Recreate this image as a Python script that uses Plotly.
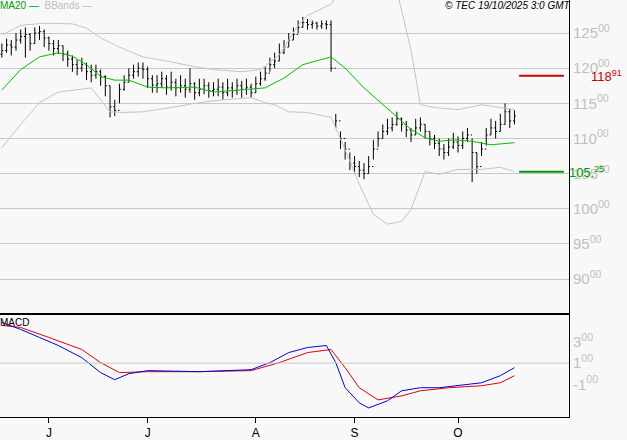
import plotly.graph_objects as go
from plotly.subplots import make_subplots

# daily bars, index 0 = 19 May 2025 ... 109 = 17 Oct 2025 (business days)
closes = [122.5, 123.3, 123.0, 124.0, 124.5, 124.8, 123.5, 125.0, 125.2, 124.3,
          123.5, 122.8, 123.2, 122.0, 121.3, 120.5, 120.0, 120.5, 119.5, 119.0,
          119.5, 118.8, 117.5, 114.5, 114.0, 117.0, 118.0, 119.0, 119.5, 120.0,
          119.8, 118.5, 117.6, 117.8, 118.5, 117.3, 118.0, 117.2, 117.5, 117.0,
          117.8, 116.5, 117.0, 117.5, 116.8, 117.0, 117.3, 116.5, 117.2, 116.8,
          117.5, 117.0, 117.3, 116.5, 117.8, 118.5, 119.3, 120.5, 121.0, 122.2,
          123.0, 124.0, 124.8, 125.8, 126.5, 126.2, 126.4, 126.0, 126.3, 126.2,
          120.0, 112.5, 110.0, 108.5, 106.5, 106.0, 105.5, 105.0, 106.0, 108.5,
          110.0, 111.0, 111.5, 112.0, 112.8, 112.0, 111.2, 110.5, 111.5, 112.0,
          111.0, 110.0, 109.3, 108.5, 108.0, 108.8, 109.5, 109.0, 110.0, 110.5,
          108.0, 106.0, 108.5, 110.5, 111.5, 111.0, 112.0, 113.8, 112.5, 113.2]
opens = [122.0] + closes[:-1]
highs = [123.5, 124.2, 124.0, 125.0, 125.5, 125.8, 125.0, 125.8, 126.0, 125.5,
         124.5, 124.0, 124.0, 123.2, 122.5, 121.8, 121.2, 121.5, 120.8, 120.5,
         120.5, 119.8, 119.0, 117.5, 115.5, 117.8, 119.0, 120.0, 120.5, 120.8,
         120.8, 120.2, 119.0, 119.0, 119.5, 119.0, 119.5, 118.5, 119.0, 118.5,
         120.0, 118.0, 118.5, 118.5, 118.0, 118.0, 118.5, 118.0, 118.5, 118.0,
         118.5, 118.2, 118.5, 117.8, 118.8, 119.5, 120.2, 121.5, 122.2, 123.5,
         124.0, 125.0, 125.8, 126.8, 127.3, 127.0, 126.8, 126.6, 126.8, 126.8,
         126.8, 113.5, 111.0, 109.5, 108.0, 107.5, 106.8, 106.5, 107.5, 109.8,
         111.0, 112.0, 112.8, 113.0, 113.8, 113.0, 112.5, 111.5, 112.8, 113.0,
         112.0, 111.0, 110.5, 110.0, 109.2, 110.0, 110.8, 110.3, 111.0, 111.5,
         110.0, 108.0, 109.5, 111.5, 112.8, 112.5, 113.5, 115.0, 114.2, 114.0]
lows = [121.5, 122.2, 121.8, 122.5, 123.5, 121.5, 122.5, 123.5, 124.0, 123.0,
        122.5, 121.8, 122.0, 121.0, 120.2, 119.5, 119.0, 119.5, 118.3, 118.0,
        118.5, 117.5, 116.0, 113.0, 113.2, 115.0, 116.8, 118.0, 118.5, 118.8,
        118.5, 117.2, 116.5, 116.5, 117.2, 116.2, 116.8, 116.0, 116.5, 115.8,
        116.5, 115.5, 116.0, 116.3, 115.8, 116.0, 116.0, 115.5, 116.0, 115.8,
        116.2, 115.8, 116.2, 115.8, 116.5, 117.5, 118.2, 119.5, 120.0, 121.0,
        122.0, 123.0, 124.0, 125.0, 125.8, 125.5, 125.6, 125.5, 125.6, 125.5,
        119.5, 111.5, 108.5, 107.0, 105.5, 105.0, 104.5, 104.2, 105.0, 107.0,
        108.8, 110.0, 110.5, 111.0, 111.8, 111.0, 110.2, 109.5, 110.5, 111.0,
        110.0, 109.0, 108.5, 107.5, 107.0, 107.5, 108.5, 108.0, 108.5, 109.5,
        103.8, 105.0, 107.5, 109.0, 110.5, 110.0, 111.0, 112.0, 111.5, 112.0]
days = list(range(len(closes)))

ma_x = [0, 4, 8, 12, 15, 18, 21, 24, 27, 31, 35, 41, 45, 51, 56, 60, 64, 70, 73, 77, 83, 87, 90, 93, 96, 100, 104, 109]
ma_y = [116.9, 119.8, 121.6, 122.2, 121.7, 120.5, 118.8, 118.3, 118.3, 117.3, 117.2, 117.3, 116.6, 116.9, 117.2,
        118.6, 120.5, 121.6, 120.0, 117.2, 113.7, 111.3, 110.1, 109.6, 109.8, 109.6, 109.1, 109.4]
bbu_x = [0, 4, 9, 15, 18, 21, 25, 30, 36, 41, 45, 51, 55, 59, 61, 63, 65, 68, 70, 72, 78, 84, 85, 87, 89, 92, 97, 102, 106, 109]
bbu_y = [124.7, 126.1, 126.4, 126.3, 125.7, 124.3, 123.0, 121.6, 120.9, 120.2, 119.8, 119.5, 119.8, 121.9, 124.0,
         126.1, 127.5, 128.5, 129.1, 131.0, 134.0, 131.0, 128.3, 122.6, 114.8, 114.4, 114.1, 114.8, 114.4, 114.1]
bbl_x = [0, 4, 8, 12, 19, 23, 26, 30, 36, 42, 47, 53, 56, 58, 61, 65, 70, 73, 76, 79, 82, 85, 87, 89, 90, 93, 97, 102, 106, 109]
bbl_y = [108.7, 112.0, 115.1, 116.6, 117.2, 113.8, 113.7, 113.8, 114.4, 115.1, 115.5, 115.8, 115.1, 114.8, 113.8,
         113.7, 113.0, 108.4, 103.5, 99.2, 97.8, 98.2, 99.9, 103.5, 105.3, 104.9, 105.6, 105.6, 105.9, 105.3]
macd_x = [0, 4, 8, 12, 17, 21, 24, 27, 31, 42, 53, 57, 61, 65, 69, 71, 73, 76, 78, 82, 85, 89, 93, 97, 102, 106, 109]
macd_y = [4.86, 4.19, 3.43, 2.67, 1.52, 0.1, -0.57, 0.0, 0.29, 0.19, 0.38, 1.05, 2.0, 2.48, 2.67, 1.05, -1.33,
          -2.76, -3.24, -2.57, -1.62, -1.33, -1.33, -1.14, -0.86, -0.19, 0.57]
sig_x = [0, 4, 10, 17, 21, 25, 31, 42, 53, 59, 65, 70, 73, 76, 80, 85, 89, 95, 102, 106, 109]
sig_y = [4.57, 4.38, 3.43, 2.29, 1.05, 0.1, 0.19, 0.19, 0.29, 1.05, 2.0, 2.29, 0.57, -1.33, -2.48, -2.1, -1.62,
         -1.33, -1.14, -0.86, -0.19]

resistance = 118.91
support = 105.25

month_pos = [10, 31, 54, 75, 97]
month_txt = ['J', 'J', 'A', 'S', 'O']
price_ticks = [90, 95, 100, 105, 110, 115, 120, 125]
macd_ticks = [3, 1, -1]

fig = make_subplots(rows=2, cols=1, shared_xaxes=True, vertical_spacing=0,
                    row_heights=[315, 104])

fig.add_trace(go.Scatter(x=bbu_x, y=bbu_y, mode='lines', line=dict(color='#c4c4c4', width=1)), row=1, col=1)
fig.add_trace(go.Scatter(x=bbl_x, y=bbl_y, mode='lines', line=dict(color='#c4c4c4', width=1)), row=1, col=1)
fig.add_trace(go.Scatter(x=ma_x, y=ma_y, mode='lines', line=dict(color='#00c000', width=1)), row=1, col=1)
fig.add_trace(go.Ohlc(x=days, open=opens, high=highs, low=lows, close=closes, tickwidth=0.3,
                      increasing_line_color='black', decreasing_line_color='black',
                      increasing_line_width=1, decreasing_line_width=1), row=1, col=1)
fig.add_trace(go.Scatter(x=sig_x, y=sig_y, mode='lines', line=dict(color='#e00000', width=1)), row=2, col=1)
fig.add_trace(go.Scatter(x=macd_x, y=macd_y, mode='lines', line=dict(color='#0000e0', width=1)), row=2, col=1)

# support / resistance marks
fig.add_shape(type='line', x0=110, x1=119.5, y0=resistance, y1=resistance, line=dict(color='#cc0000', width=2), row=1, col=1)
fig.add_shape(type='line', x0=110, x1=119.5, y0=support, y1=support, line=dict(color='#009900', width=2), row=1, col=1)
fig.add_shape(type='line', x0=-0.4, x1=120.6, y0=1, y1=1, line=dict(color='#c8c8c8', width=1), row=2, col=1)

grey = '#c0c0c0'
fig.update_xaxes(range=[-0.4, 120.6], showgrid=False, zeroline=False, rangeslider_visible=False)
fig.update_xaxes(showline=True, linecolor='black', linewidth=2, showticklabels=False, row=1, col=1)
fig.update_xaxes(showline=True, linecolor='black', linewidth=1, tickvals=month_pos, ticktext=month_txt,
                 ticks='outside', ticklen=5, tickcolor='black', tickfont=dict(color='black', size=12), row=2, col=1)
fig.update_yaxes(side='right', showline=True, linecolor='black', linewidth=1, zeroline=False, ticks='')
fig.update_yaxes(range=[85.1, 129.7], tickvals=price_ticks,
                 ticktext=[f'{v}<sup>00</sup>' for v in price_ticks], gridcolor='#c8c8c8',
                 tickfont=dict(color=grey, size=15), row=1, col=1)
fig.update_yaxes(range=[-4.1, 5.7], tickvals=macd_ticks,
                 ticktext=[f'{v}<sup>00</sup>' for v in macd_ticks], showgrid=False,
                 tickfont=dict(color=grey, size=15), row=2, col=1)

fig.add_annotation(xref='paper', yref='y', x=1.0, y=resistance, xanchor='left', showarrow=False, xshift=20,
                   text='118<sup>91</sup>', font=dict(color='#cc0000', size=13))
fig.add_annotation(xref='paper', yref='y', x=1.0, y=support, xanchor='left', showarrow=False, xshift=-2,
                   text='105.<sup>25</sup>', font=dict(color='#009900', size=13))
fig.add_annotation(xref='paper', yref='paper', x=0, y=1.0, xanchor='left', yanchor='top', showarrow=False,
                   text="<span style='color:#00a000'>MA20 —</span>  <span style='color:#c0c0c0'>BBands —</span>",
                   font=dict(size=10), xshift=-2, yshift=2)
fig.add_annotation(xref='paper', yref='paper', x=1.0, y=1.0, xanchor='right', yanchor='top', showarrow=False,
                   text='<i>© TEC 19/10/2025 3:0 GMT</i>', font=dict(size=10, color='black'), xshift=4, yshift=2)
fig.add_annotation(xref='paper', yref='paper', x=0, y=0.245, xanchor='left', yanchor='top', showarrow=False,
                   text='MACD', font=dict(size=10, color='black'), xshift=-2)

fig.update_layout(width=627, height=440, margin=dict(l=0, r=58, t=0, b=21),
                  plot_bgcolor='#f8f8f8', paper_bgcolor='#f8f8f8', showlegend=False,
                  font=dict(family='Liberation Sans, Arial'))

fig.write_html('out.html', config={'displayModeBar': False},
               post_script="document.body.style.margin='0';document.body.style.background='#f8f8f8';")
